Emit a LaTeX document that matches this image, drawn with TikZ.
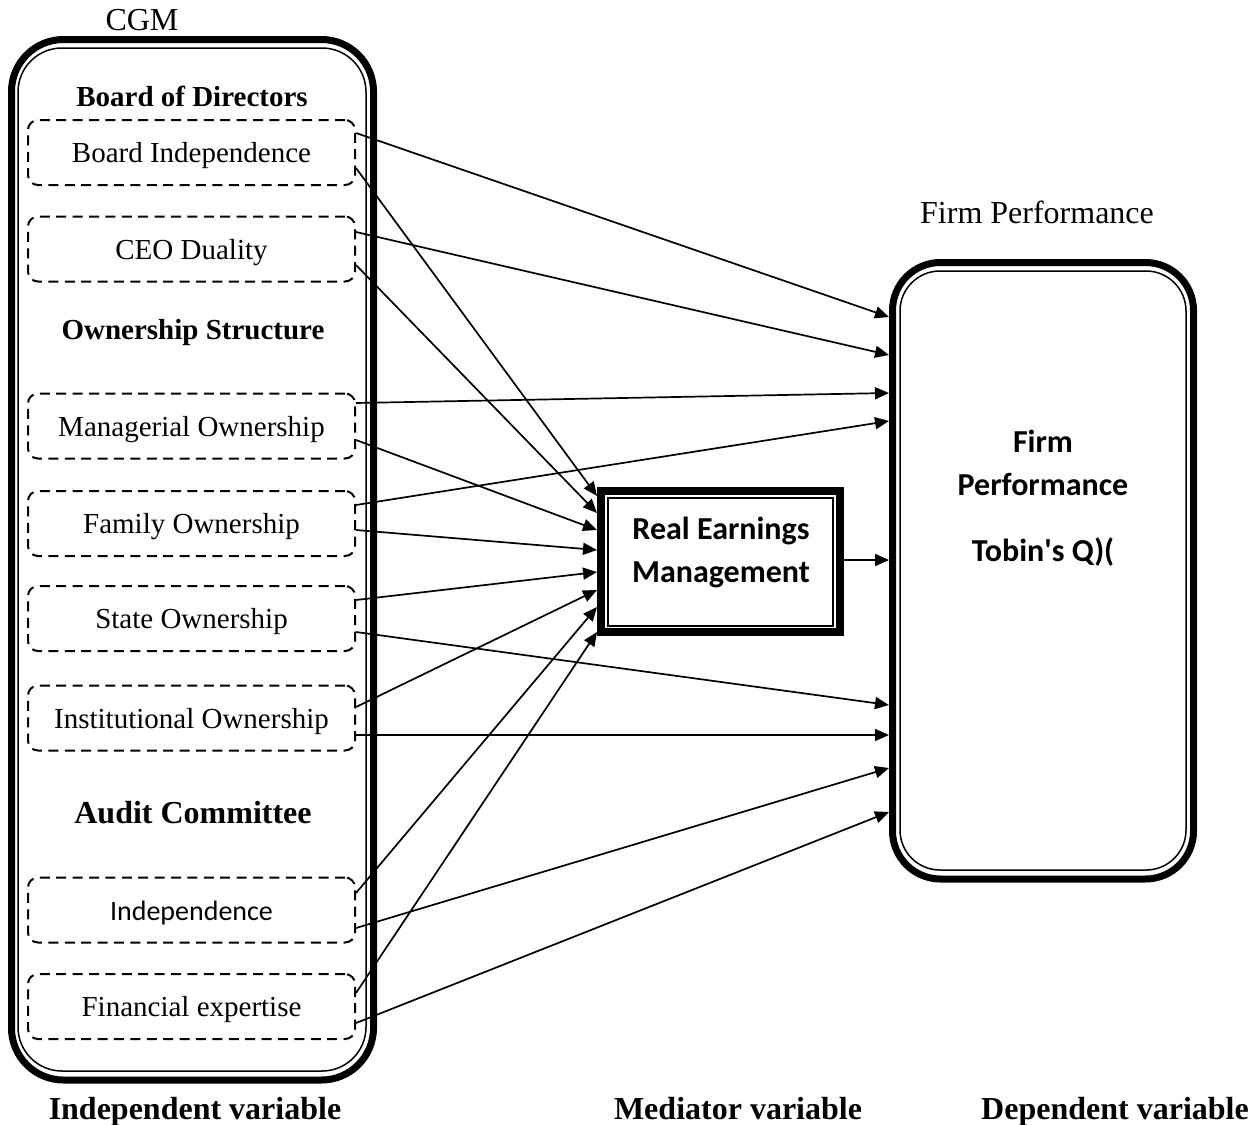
\documentclass[tikz,border=0pt]{standalone}
\usepackage{fontspec}
\setmainfont{Liberation Serif}
\newfontfamily\carlito{Carlito}
\usetikzlibrary{arrows.meta,calc}
\begin{document}
\begin{tikzpicture}[x=0.5pt,y=-0.5pt,
  dbox/.style={draw, line width=1pt, dash pattern=on 5pt off 3.2pt, rounded corners=5pt,
    minimum width=163.5pt, minimum height=32.5pt, inner sep=0pt,
    text height=11.5pt, text depth=1.5pt,
    font=\fontsize{14.5}{17}\selectfont},
  head/.style={font=\fontsize{14.5}{17}\selectfont\bfseries},
  bighead/.style={font=\fontsize{16}{19}\selectfont\bfseries},
  plainlab/.style={font=\fontsize{16}{19}\selectfont},
  sanslab/.style={font=\carlito\bfseries\fontsize{16}{21.5}\selectfont, align=center},
  arr/.style={line width=0.85pt, -{Triangle[length=7pt,width=6pt]}},
  thickb/.style={draw, line width=3.5pt},
  thinb/.style={line width=0.75pt},
]
\useasboundingbox (0,0) rectangle (1257,1124);

% ---- left container (CGM)
\node[thickb, rounded corners=26pt, minimum width=181pt, minimum height=520.25pt, outer sep=0pt] (cgm) at (192.5,559.75) {};
\draw[thinb, rounded corners=22pt] ($(cgm.north west)+(6.5,8.5)$) rectangle ($(cgm.south east)+(-7.5,-9)$);
\node[plainlab] (cgmlab) at (142,20) {CGM};

\node[head] (bod) at (192,96) {Board of Directors};
\node[head] (own) at (193,333) {Ownership Structure};
\node[bighead] (aud) at (193,813) {Audit Committee};

\node[dbox] (bi)  at (191.5,152.5) {Board Independence};
\node[dbox] (ceo) at (191.5,249)   {CEO Duality};
\node[dbox] (mo)  at (191.5,426)   {Managerial Ownership};
\node[dbox] (fo)  at (191.5,523.5) {Family Ownership};
\node[dbox] (so)  at (191.5,618.5) {State Ownership};
\node[dbox] (io)  at (191.5,718)   {Institutional Ownership};
\node[dbox, font=\carlito\fontsize{14}{17}\selectfont] (ind) at (191.5,910) {Independence};
\node[dbox] (fe)  at (191.5,1006.5) {Financial expertise};

% ---- mediator
\node[draw, line width=4pt, minimum width=119.5pt, minimum height=70.5pt] (rem) at (720.5,561.5) {};
\draw[thinb] ($(rem.north west)+(11,11)$) rectangle ($(rem.south east)+(-11,-10)$);
\node[sanslab] (remtxt) at (721,552) {Real Earnings\\Management};

% ---- dependent
\node[thickb, rounded corners=24pt, minimum width=150.5pt, minimum height=308.25pt] (fp) at (1043,570.75) {};
\draw[thinb, rounded corners=20pt] ($(fp.north west)+(11,12)$) rectangle ($(fp.south east)+(-11,-12.5)$);
\node[plainlab] (fplab) at (1037,212) {Firm Performance};
\node[sanslab] (fptxt) at (1043,463) {Firm\\Performance};
\node[sanslab] (tobin) at (1043,552) {Tobin\textquotesingle s Q)(};

% ---- bottom labels (common baseline)
\node[bighead, anchor=base] (indep) at (195,1119) {Independent variable};
\node[bighead, anchor=base] (medv)  at (738,1119) {Mediator variable};
\node[bighead, anchor=base] (depv)  at (1115,1119) {Dependent variable};

% ---- arrows to firm performance
\draw[arr] ([yshift=9.75pt]bi.east)  -- ([yshift=126.875pt]fp.west);
\draw[arr] ([yshift=8.5pt]ceo.east)  -- ([yshift=107.875pt]fp.west);
\draw[arr] ([yshift=11.5pt]mo.east)  -- ([yshift=88.875pt]fp.west);
\draw[arr] ([yshift=9.25pt]fo.east)  -- ([yshift=74.875pt]fp.west);
\draw[arr] ([yshift=-6.75pt]so.east) -- ([yshift=-67.125pt]fp.west);
\draw[arr] ([yshift=-8.5pt]io.east)  -- ([yshift=-82.125pt]fp.west);
\draw[arr] ([yshift=-9pt]ind.east)   -- ([yshift=-98.625pt]fp.west);
\draw[arr] ([yshift=-8.25pt]fe.east) -- ([yshift=-120.625pt]fp.west);
\draw[arr] ([yshift=0.75pt]rem.east) -- ([yshift=5.375pt]fp.west);

% ---- arrows to mediator
\draw[arr] ([yshift=-7.75pt]bi.east) -- ([yshift=32.75pt]rem.west);
\draw[arr] ([yshift=-8pt]ceo.east)   -- ([yshift=24.25pt]rem.west);
\draw[arr] ([yshift=-7pt]mo.east)    -- ([yshift=15.75pt]rem.west);
\draw[arr] ([yshift=-3.25pt]fo.east) -- ([yshift=5.75pt]rem.west);
\draw[arr] ([yshift=9.25pt]so.east)  -- ([yshift=-5.25pt]rem.west);
\draw[arr] ([yshift=5.5pt]io.east)   -- ([yshift=-14.25pt]rem.west);
\draw[arr] ([yshift=8.5pt]ind.east)  -- ([yshift=-22.75pt]rem.west);
\draw[arr] ([yshift=6.75pt]fe.east)  -- ([yshift=-35.25pt]rem.west);
\end{tikzpicture}
\end{document}
